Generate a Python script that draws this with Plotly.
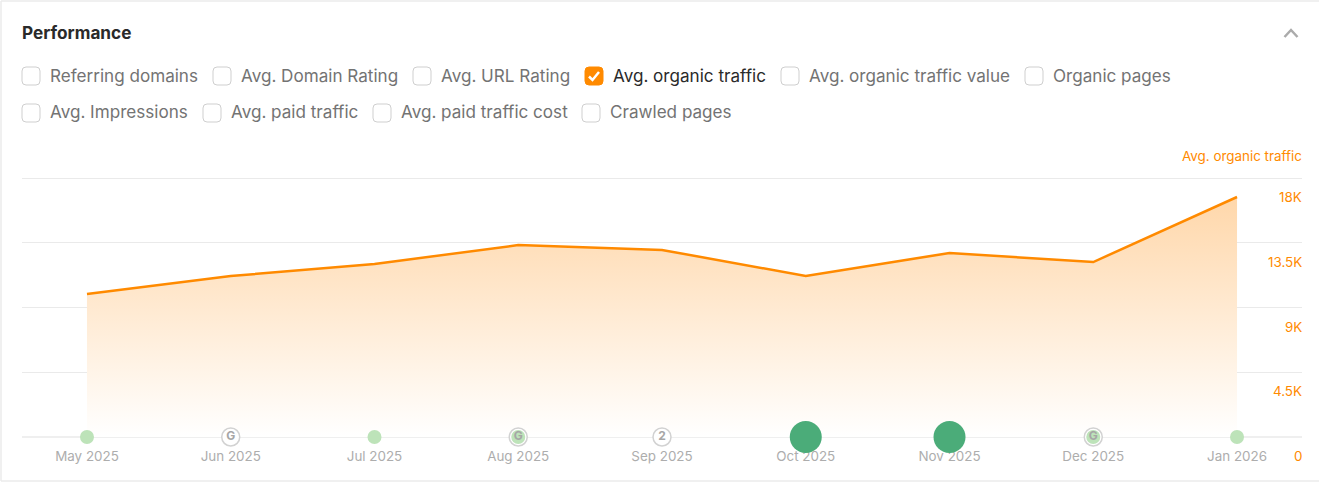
import plotly.graph_objects as go

months = ["May 2025", "Jun 2025", "Jul 2025", "Aug 2025", "Sep 2025", "Oct 2025", "Nov 2025", "Dec 2025", "Jan 2026"]
organic_traffic = [9940, 11190, 12020, 13340, 13000, 11190, 12790, 12160, 16680]

y_ticks = [0, 4500, 9000, 13500, 18000]
y_labels = ["0", "4.5K", "9K", "13.5K", "18K"]

# event dots along the baseline
dot_sizes = [14, 0, 14, 14, 0, 32, 32, 14, 14]
dot_colors = ["#BDE3B9", "#FFFFFF", "#BDE3B9", "#BDE3B9", "#FFFFFF", "#4BAC79", "#4BAC79", "#BDE3B9", "#BDE3B9"]
ring_sizes = [0, 18, 0, 18, 18, 0, 0, 18, 0]
ring_text = ["", "G", "", "G", "2", "", "", "G", ""]

filters_row1 = ["Referring domains", "Avg. Domain Rating", "Avg. URL Rating", "Avg. organic traffic",
                "Avg. organic traffic value", "Organic pages"]
filters_row2 = ["Avg. Impressions", "Avg. paid traffic", "Avg. paid traffic cost", "Crawled pages"]
selected = "Avg. organic traffic"

ORANGE = "#FF8A00"
W, H = 1319, 482
# plot area runs 2px above the 18K gridline, plotly drops grid lines sitting on the edge
LEFT, RIGHT, TOP, BOTTOM = 22, 1302, 176, 437
Y_MAX = 18139
FONT = "Inter"


def px_x(x):
    return (x - LEFT) / (RIGHT - LEFT)


def px_y(y):
    return (BOTTOM - y) / (BOTTOM - TOP)


def box_path(x, y, size=18, r=4):
    x0, x1 = x, x + size
    y0, y1 = y, y + size
    pts = [
        ("M", x0 + r, y0), ("L", x1 - r, y0), ("Q", x1, y0, x1, y0 + r), ("L", x1, y1 - r),
        ("Q", x1, y1, x1 - r, y1), ("L", x0 + r, y1), ("Q", x0, y1, x0, y1 - r), ("L", x0, y0 + r),
        ("Q", x0, y0, x0 + r, y0),
    ]
    out = ""
    for p in pts:
        vals = []
        for i, v in enumerate(p[1:]):
            vals.append(str(px_x(v)) if i % 2 == 0 else str(px_y(v)))
        out += p[0] + " " + " ".join(vals) + " "
    return out + "Z"


def line_path(points):
    out = ""
    for i, (x, y) in enumerate(points):
        out += ("M " if i == 0 else "L ") + str(px_x(x)) + " " + str(px_y(y)) + " "
    return out


fig = go.Figure()

fig.add_trace(go.Scatter(
    x=months, y=organic_traffic, mode="lines", line=dict(color=ORANGE, width=2.5),
    fill="tozeroy",
    fillgradient=dict(type="vertical", colorscale=[[0, "rgba(255,255,255,1)"], [1, "rgba(255,215,170,1)"]]),
    hoverinfo="skip", showlegend=False,
))

# white rings with a letter or a count
fig.add_trace(go.Scatter(
    x=months, y=[0] * len(months), mode="markers",
    marker=dict(size=ring_sizes, color="#FFFFFF", line=dict(color="#D2D2D2", width=1.5), opacity=1),
    cliponaxis=False, hoverinfo="skip", showlegend=False,
))
fig.add_trace(go.Scatter(
    x=months, y=[0] * len(months), mode="markers",
    marker=dict(size=dot_sizes, color=dot_colors, line=dict(width=0), opacity=1),
    cliponaxis=False, hoverinfo="skip", showlegend=False,
))
fig.add_trace(go.Scatter(
    x=months, y=[0] * len(months), mode="text", text=ring_text, textposition="middle center",
    textfont=dict(family=FONT, size=12, color="#A6A6A6", weight=700),
    cliponaxis=False, hoverinfo="skip", showlegend=False,
))

shapes = []
annotations = []

# card border
for pts in ([(1, 1), (1319, 1)], [(1, 1), (1, 481)], [(1, 481), (1319, 481)]):
    shapes.append(dict(type="path", xref="paper", yref="paper", path=line_path(pts),
                       line=dict(color="#EBEBEB", width=1.5), layer="below"))

# collapse chevron
shapes.append(dict(type="path", xref="paper", yref="paper",
                   path=line_path([(1284.5, 37), (1291, 30), (1297.5, 37)]),
                   line=dict(color="#ABABAB", width=2.5)))

annotations.append(dict(xref="paper", yref="paper", x=px_x(22), y=px_y(32), text="<b>Performance</b>",
                        showarrow=False, xanchor="left", yanchor="middle", borderpad=0, borderwidth=0,
                        font=dict(family=FONT, size=17.2, color="#2A2A2A")))
annotations.append(dict(xref="paper", yref="paper", x=px_x(1302), y=px_y(156), text="Avg. organic traffic",
                        showarrow=False, xanchor="right", yanchor="middle", borderpad=0, borderwidth=0,
                        font=dict(family=FONT, size=13.4, color=ORANGE)))

# y labels sit 19px under their grid lines, "0" would be dropped as a real tick label
for val, label in zip(y_ticks, y_labels):
    annotations.append(dict(xref="paper", yref="y", x=px_x(1302), y=val, yshift=-19, text=label,
                            showarrow=False, xanchor="right", yanchor="middle", borderpad=0, borderwidth=0,
                            font=dict(family=FONT, size=13.4, color=ORANGE)))

row1_boxes = [22, 213, 413, 585, 781, 1025]
row2_boxes = [22, 203, 373, 582]

for names, boxes, cy in ((filters_row1, row1_boxes, 76), (filters_row2, row2_boxes, 113)):
    for name, bx in zip(names, boxes):
        on = name == selected
        shapes.append(dict(type="path", xref="paper", yref="paper", path=box_path(bx, cy - 9),
                           fillcolor=ORANGE if on else "#FFFFFF",
                           line=dict(color=ORANGE if on else "#CFCFCF", width=1)))
        if on:
            shapes.append(dict(type="path", xref="paper", yref="paper",
                               path=line_path([(bx + 4, cy + 0.5), (bx + 7.5, cy + 4), (bx + 14, cy - 4)]),
                               line=dict(color="#FFFFFF", width=2.5)))
        annotations.append(dict(xref="paper", yref="paper", x=px_x(bx + 28), y=px_y(cy - 1), text=name,
                                showarrow=False, xanchor="left", yanchor="middle", borderpad=0, borderwidth=0,
                                font=dict(family=FONT, size=17.1, color="#2A2A2A" if on else "#737373")))

fig.update_layout(
    width=W, height=H,
    margin=dict(l=LEFT, r=W - RIGHT, t=TOP, b=H - BOTTOM, autoexpand=False),
    paper_bgcolor="#FFFFFF", plot_bgcolor="#FFFFFF",
    shapes=shapes, annotations=annotations,
    font=dict(family=FONT),
    xaxis=dict(
        type="category", range=[-0.452, 8.452], showgrid=False, zeroline=False, showline=False,
        ticks="outside", ticklen=7, tickwidth=0, tickcolor="rgba(0,0,0,0)",
        tickfont=dict(family=FONT, size=13.4, color="#ADADAD"), layer="below traces", tickangle=0,
    ),
    yaxis=dict(
        range=[0, Y_MAX], side="right", tickvals=y_ticks, showticklabels=False,
        showgrid=True, gridcolor="#EAEAEA", gridwidth=1,
        zeroline=True, zerolinecolor="#EFEFEF", zerolinewidth=2, showline=False,
    ),
)

fig.write_html("out.html", config=dict(displayModeBar=False), post_script="document.body.style.margin='0';")
